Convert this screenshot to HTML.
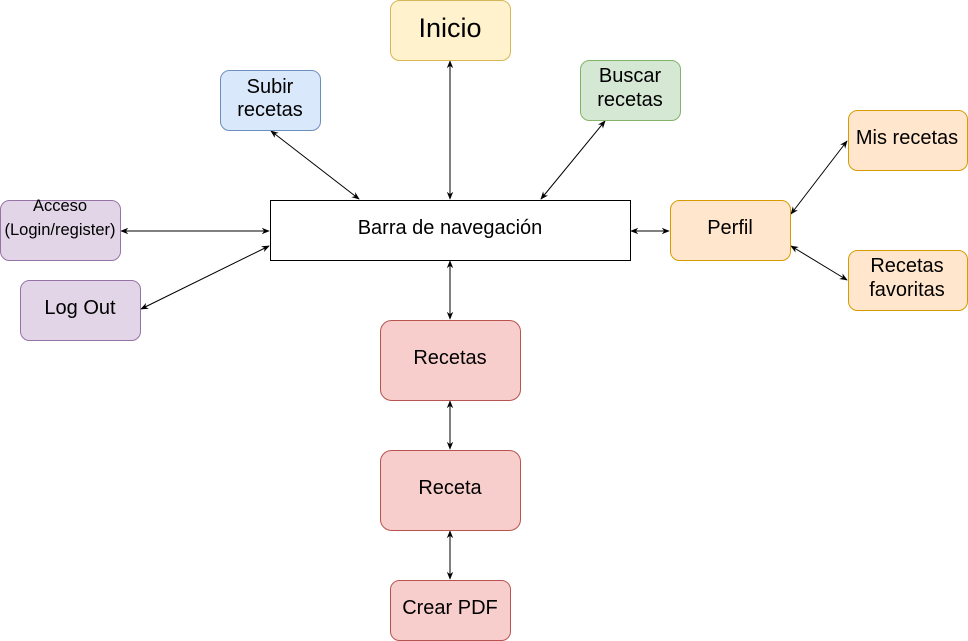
<!DOCTYPE html>
<html><head><meta charset="utf-8"><style>
html,body{margin:0;padding:0;background:#fff;}
svg{display:block;}
text{font-family:"Liberation Sans",Helvetica,sans-serif;fill:#000;text-anchor:middle;dominant-baseline:central;}
</style></head><body>
<svg width="968" height="641" viewBox="0 0 968 641" xmlns="http://www.w3.org/2000/svg">
<defs>
<marker id="a" viewBox="0 0 10 10" refX="9" refY="5" markerWidth="8" markerHeight="8" orient="auto-start-reverse" markerUnits="userSpaceOnUse">
<path d="M0,1 L10,5 L0,9 L3,5 Z" fill="#000"/>
</marker>
</defs>
<g stroke="#000" stroke-width="1" fill="none" marker-start="url(#a)" marker-end="url(#a)">
<line x1="450" y1="61" x2="450" y2="199"/>
<line x1="271" y1="131" x2="359" y2="199"/>
<line x1="605" y1="121" x2="541" y2="199"/>
<line x1="121" y1="231" x2="269" y2="231"/>
<line x1="141" y1="309" x2="269" y2="246"/>
<line x1="631" y1="231" x2="669" y2="231"/>
<line x1="791" y1="214" x2="847" y2="141"/>
<line x1="791" y1="246" x2="847" y2="280"/>
<line x1="450" y1="261" x2="450" y2="319"/>
<line x1="450" y1="401" x2="450" y2="449"/>
<line x1="450" y1="531" x2="450" y2="579"/>
</g>
<rect x="390.5" y="0.5" width="120" height="60" rx="9" fill="#fff2cc" stroke="#d6b656"/>
<text x="450" y="28" font-size="27">Inicio</text>
<rect x="220.5" y="70.5" width="100" height="60" rx="9" fill="#dae8fc" stroke="#6c8ebf"/>
<text x="270" y="87" font-size="20">Subir</text><text x="270" y="110" font-size="20">recetas</text>
<rect x="580.5" y="60.5" width="100" height="60" rx="9" fill="#d5e8d4" stroke="#82b366"/>
<text x="630" y="76" font-size="20">Buscar</text><text x="630" y="100" font-size="20">recetas</text>
<rect x="270.5" y="200.5" width="360" height="60" fill="#fff" stroke="#000"/>
<text x="450" y="228" font-size="20">Barra de navegación</text>
<rect x="0.5" y="200.5" width="120" height="60" rx="9" fill="#e1d5e7" stroke="#9673a6"/>
<text x="60" y="206" font-size="16.5">Acceso</text><text x="60" y="230" font-size="16.5">(Login/register)</text>
<rect x="20.5" y="280.5" width="120" height="60" rx="9" fill="#e1d5e7" stroke="#9673a6"/>
<text x="80" y="308" font-size="20">Log Out</text>
<rect x="670.5" y="200.5" width="120" height="60" rx="9" fill="#ffe6cc" stroke="#d79b00"/>
<text x="730" y="228" font-size="20">Perfil</text>
<rect x="848.5" y="110.5" width="119" height="60" rx="9" fill="#ffe6cc" stroke="#d79b00"/>
<text x="907" y="138" font-size="20">Mis recetas</text>
<rect x="848.5" y="250.5" width="119" height="60" rx="9" fill="#ffe6cc" stroke="#d79b00"/>
<text x="907" y="266" font-size="20">Recetas</text><text x="907" y="290" font-size="20">favoritas</text>
<rect x="380.5" y="320.5" width="140" height="80" rx="11" fill="#f8cecc" stroke="#b85450"/>
<text x="450" y="358" font-size="20">Recetas</text>
<rect x="380.5" y="450.5" width="140" height="80" rx="11" fill="#f8cecc" stroke="#b85450"/>
<text x="450" y="488" font-size="20">Receta</text>
<rect x="390.5" y="580.5" width="120" height="60" rx="9" fill="#f8cecc" stroke="#b85450"/>
<text x="450" y="608" font-size="20">Crear PDF</text>
</svg>
</body></html>
